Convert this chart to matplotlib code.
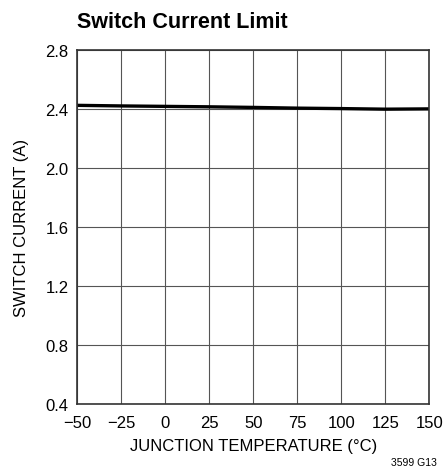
import matplotlib.pyplot as plt
from matplotlib import font_manager

names = {f.name for f in font_manager.fontManager.ttflist}
narrow = 'Liberation Sans Narrow' if 'Liberation Sans Narrow' in names else 'Liberation Sans'
plt.rcParams['font.family'] = [narrow, 'DejaVu Sans']

temp = [-50, -25, 0, 25, 50, 75, 100, 125, 150]
current = [2.425, 2.421, 2.418, 2.415, 2.411, 2.406, 2.403, 2.399, 2.401]

xticks = [-50, -25, 0, 25, 50, 75, 100, 125, 150]
xlabels = ['\u221250', '\u221225', '0', '25', '50', '75', '100', '125', '150']
yticks = [0.4, 0.8, 1.2, 1.6, 2.0, 2.4, 2.8]

fig = plt.figure(figsize=(4.43, 4.77), dpi=100)
ax = fig.add_axes([0.174, 0.151, 0.795, 0.742])

ax.plot(temp, current, color='black', lw=2.4, solid_capstyle='butt')
ax.set_xlim(-50, 150)
ax.set_ylim(0.4, 2.8)
ax.set_xticks(xticks)
ax.set_xticklabels(xlabels)
ax.set_yticks(yticks)
ax.set_yticklabels([f'{v:.1f}' for v in yticks])
ax.grid(True, color='#555555', lw=0.8)
ax.tick_params(length=0, labelsize=12)
ax.tick_params(axis='x', pad=8)
ax.tick_params(axis='y', pad=6)
for s in ax.spines.values():
    s.set_linewidth(1.2)
    s.set_color('#333333')

ax.set_xlabel('JUNCTION TEMPERATURE (\u00b0C)', fontsize=12, labelpad=6)
ax.set_ylabel('SWITCH CURRENT (A)', fontsize=12, labelpad=12)
fig.text(0.174, 0.953, 'Switch Current Limit', fontsize=15.5, fontweight='bold', va='center', ha='left')
fig.text(0.935, 0.018, '3599 G13', fontsize=7.5, ha='center', va='bottom')

fig.savefig('out.png', dpi=100)
